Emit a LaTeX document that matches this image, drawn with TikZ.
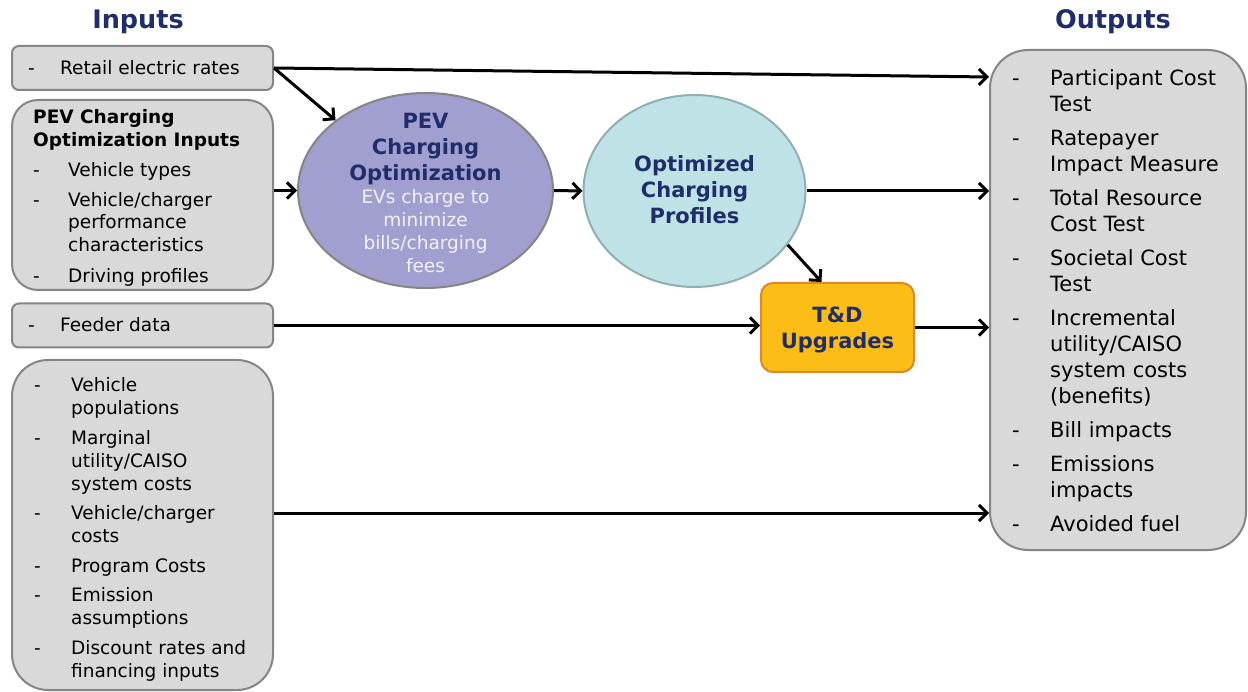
\documentclass[tikz,border=0pt]{standalone}
\usepackage{fontspec}
\setmainfont{DejaVu Sans}
\usetikzlibrary{arrows.meta,shapes.geometric}
\definecolor{navy}{HTML}{1F2D6B}
\definecolor{boxgray}{HTML}{D9D9D9}
\definecolor{boxline}{HTML}{858585}
\definecolor{lav}{HTML}{A09FCF}
\definecolor{cyanlt}{HTML}{BEE2E5}
\definecolor{cyanline}{HTML}{8FAFB1}
\definecolor{gold}{HTML}{FBBD16}
\definecolor{goldline}{HTML}{E0872A}
\definecolor{pale}{HTML}{F2F2FA}
\newcommand{\ttl}[1]{{\fontsize{21}{26}\selectfont\bfseries\color{navy}#1}}
\newcommand{\dsc}[1]{{\fontsize{18.5}{23}\selectfont\color{pale}#1}}
\begin{document}
\begin{tikzpicture}[x=1pt,y=-1pt,
  inbox/.style={draw=boxline,fill=boxgray,line width=2pt,rectangle,inner sep=0pt},
  bubble/.style={ellipse,draw=boxline,line width=2pt,inner sep=0pt},
  flow/.style={line width=3pt,-{Straight Barb[length=8pt,width=16pt]}},
  listtxt/.style={anchor=base west,inner sep=0pt,font=\fontsize{18.5}{23}\selectfont},
  outtxt/.style={anchor=base west,inner sep=0pt,font=\fontsize{21}{26}\selectfont},
  heading/.style={font=\fontsize{25.5}{30}\selectfont\bfseries,text=navy,inner sep=0pt},
  ctxt/.style={anchor=base,inner sep=0pt,font=\fontsize{18.5}{23}\selectfont},
]
\useasboundingbox (0,0) rectangle (1248,692);
\node[heading] (hin) at (138,22) {Inputs};
\node[heading] (hout) at (1113,22) {Outputs};

\node[inbox,rounded corners=7pt,minimum width=261pt,minimum height=44pt] (retail) at (142.5,68) {};
\node[inbox,rounded corners=26pt,minimum width=261pt,minimum height=190pt] (pevin) at (142.5,195) {};
\node[inbox,rounded corners=7pt,minimum width=261pt,minimum height=44pt] (feeder) at (142.5,325.5) {};
\node[inbox,rounded corners=36pt,minimum width=261pt,minimum height=330pt] (misc) at (142.5,525) {};
\node[inbox,rounded corners=38pt,minimum width=256pt,minimum height=500pt] (outputs) at (1118,300) {};

\node[bubble,fill=lav,minimum width=255pt,minimum height=195pt] (opt) at (425.5,190.5) {};
\node[bubble,fill=cyanlt,draw=cyanline,minimum width=222pt,minimum height=192pt] (prof) at (694.5,191) {};
\node[draw=goldline,fill=gold,line width=2pt,rounded corners=12pt,minimum width=153pt,minimum height=89pt,inner sep=0pt] (td) at (837.5,327.5) {};

% texts
\node[listtxt] (tretail) at (28,75) {\begin{tabular}[t]{@{}p{32pt}@{}l@{}}-&Retail electric rates\end{tabular}};
\node[listtxt] (tfeeder) at (28,332) {\begin{tabular}[t]{@{}p{32pt}@{}l@{}}-&Feeder data\end{tabular}};
\node[listtxt,font=\fontsize{18.5}{22.5}\selectfont] (tpevin) at (33,124) {\begin{tabular}[t]{@{}p{35pt}@{}l@{}}
\multicolumn{2}{@{}l@{}}{\bfseries PEV Charging}\\
\multicolumn{2}{@{}l@{}}{\bfseries Optimization Inputs}\\[7.5pt]
-&Vehicle types\\[7.5pt]
-&Vehicle/charger\\&performance\\&characteristics\\[8.5pt]
-&Driving profiles
\end{tabular}};
\node[listtxt] (tmisc) at (34,392) {\begin{tabular}[t]{@{}p{37pt}@{}l@{}}
-&Vehicle\\&populations\\[6.5pt]
-&Marginal\\&utility/CAISO\\&system costs\\[6.5pt]
-&Vehicle/charger\\&costs\\[6.5pt]
-&Program Costs\\[6.5pt]
-&Emission\\&assumptions\\[6.5pt]
-&Discount rates and\\&financing inputs
\end{tabular}};
\node[outtxt] (tout) at (1012,86) {\begin{tabular}[t]{@{}p{38pt}@{}l@{}}
-&Participant Cost\\&Test\\[8pt]
-&Ratepayer\\&Impact Measure\\[8pt]
-&Total Resource\\&Cost Test\\[8pt]
-&Societal Cost\\&Test\\[8pt]
-&Incremental\\&utility/CAISO\\&system costs\\&(benefits)\\[8pt]
-&Bill impacts\\[8pt]
-&Emissions\\&impacts\\[8pt]
-&Avoided fuel
\end{tabular}};
\node[ctxt] (topt) at (425.5,128.5) {\begin{tabular}[t]{@{}c@{}}\ttl{PEV}\\[3pt]\ttl{Charging}\\[3pt]\ttl{Optimization}\\\dsc{EVs charge to}\\\dsc{minimize}\\\dsc{bills/charging}\\\dsc{fees}\end{tabular}};
\node[ctxt] (tprof) at (694.5,172) {\begin{tabular}[t]{@{}c@{}}\ttl{Optimized}\\[3pt]\ttl{Charging}\\[3pt]\ttl{Profiles}\end{tabular}};
\node[ctxt] (ttd) at (837.5,322.5) {\begin{tabular}[t]{@{}c@{}}\ttl{T\&D}\\[3pt]\ttl{Upgrades}\end{tabular}};

% connectors
\draw[flow] (retail.east) -- ([yshift=223pt]outputs.west);
\draw[flow] (retail.east) -- (opt.142);
\draw[flow] (pevin.east |- opt.west) -- (opt.west);
\draw[flow] (opt.east) -- (prof.west);
\draw[flow] (prof.east) -- (prof.east -| outputs.west);
\draw[flow] (prof.-30) -- ([xshift=-16pt]td.north);
\draw[flow] (feeder.east) -- (feeder.east -| td.west);
\draw[flow] (td.east) -- (td.east -| outputs.west);
\draw[flow] ([yshift=12pt]misc.east) -- ([yshift=12pt]misc.east -| outputs.west);
\end{tikzpicture}
\end{document}
